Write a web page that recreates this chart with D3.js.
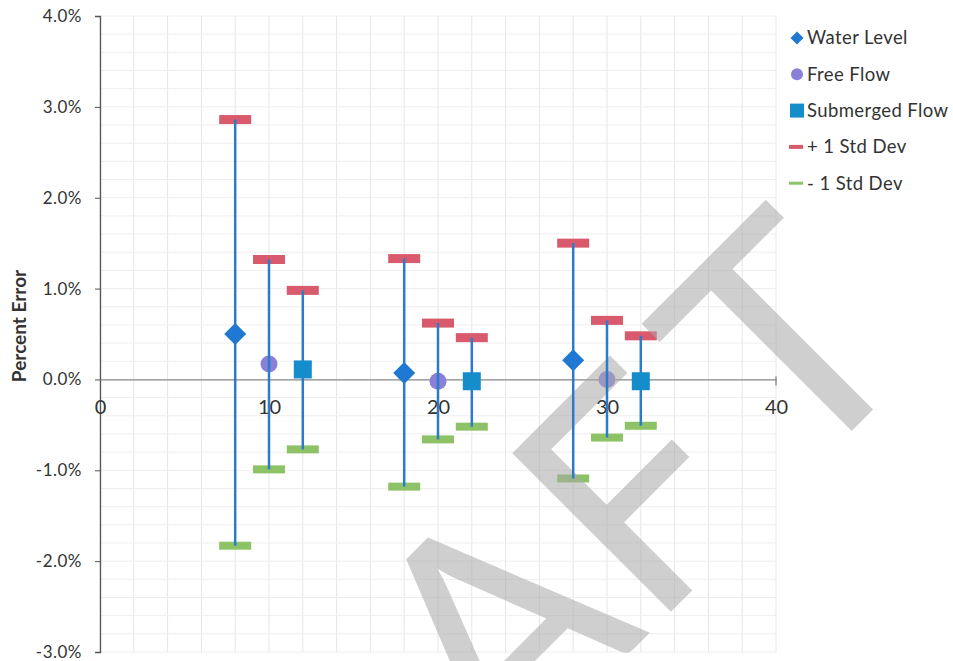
<!DOCTYPE html>
<html lang="en">
  <head>
    <meta charset="UTF-8">
    <title>Percent Error</title>
    <style>
      body { margin: 0; background: #fff; }
      svg { display: block; }
      text { font-family: Lato, "Open Sans", sans-serif; }
    </style>
    <script src="https://d3js.org/d3.v7.min.js"></script>
  </head>
  <body>
    <script>
      // values, in percent
      var waterX = [8, 18, 28];
      var waterLevel = [0.50, 0.07, 0.21];
      var freeX = [10, 20, 30];
      var freeFlow = [0.17, -0.02, 0.00];
      var subX = [12, 22, 32];
      var submergedFlow = [0.11, -0.02, -0.02];
      var stdX = [8, 10, 12, 18, 20, 22, 28, 30, 32];
      var plusStd = [2.86, 1.32, 0.98, 1.33, 0.62, 0.46, 1.50, 0.65, 0.48];
      var minusStd = [-1.83, -0.99, -0.77, -1.18, -0.66, -0.52, -1.09, -0.64, -0.51];
      var xTicks = [0, 10, 20, 30, 40];
      var yTicks = [-3, -2, -1, 0, 1, 2, 3, 4];
      var legendLabels = ["Water Level", "Free Flow", "Submerged Flow", "+ 1 Std Dev", "- 1 Std Dev"];

      var width = 953, height = 661;
      var svg = d3.select("body").append("svg")
        .attr("width", width)
        .attr("height", height);

      var x = d3.scaleLinear().domain([0, 40]).range([100, 776]);
      var y = d3.scaleLinear().domain([-3, 4]).range([652, 16]);

      // faint grid
      var grid = svg.append("g");
      grid.selectAll("line.v").data(d3.range(0, 41, 2)).enter().append("line")
        .attr("x1", function (d) { return x(d); })
        .attr("x2", function (d) { return x(d); })
        .attr("y1", y(4)).attr("y2", y(-3))
        .attr("stroke", "#e6e6e6").attr("stroke-width", 1);
      grid.selectAll("line.h").data(d3.range(-3, 4.01, 0.2)).enter().append("line")
        .attr("x1", x(0)).attr("x2", x(40))
        .attr("y1", function (d) { return y(d); })
        .attr("y2", function (d) { return y(d); })
        .attr("stroke", "#eeeeee").attr("stroke-width", 1);

      // y axis
      var yAxis = d3.axisLeft(y).tickValues(yTicks).tickSize(5).tickPadding(13)
        .tickFormat(function (d) { return d.toFixed(1) + "%"; });
      var gy = svg.append("g").attr("transform", "translate(" + x(0) + ",0)").call(yAxis);
      gy.select(".domain").attr("stroke", "#555").attr("stroke-width", 1.3);
      gy.selectAll(".tick line").attr("stroke", "#555");
      gy.selectAll(".tick text").attr("font-size", 17).attr("fill", "#333")
        .attr("font-family", "Lato").attr("letter-spacing", 0.5);

      // x axis through zero
      var xAxis = d3.axisBottom(x).tickValues(xTicks).tickSize(0).tickPadding(20);
      var gx = svg.append("g").attr("transform", "translate(0," + y(0) + ")").call(xAxis);
      gx.select(".domain").attr("stroke", "#8a8a8a").attr("stroke-width", 1.3);
      gx.selectAll(".tick text").attr("font-size", 20).attr("fill", "#333")
        .attr("font-family", "Lato");
      gx.append("line").attr("x1", x(40)).attr("x2", x(40)).attr("y1", -3).attr("y2", 6)
        .attr("stroke", "#666");

      svg.append("text")
        .attr("transform", "translate(26," + 326 + ") rotate(-90)")
        .attr("text-anchor", "middle")
        .attr("font-size", 19).attr("font-weight", "bold").attr("fill", "#333")
        .text("Percent Error");

      // std dev caps
      svg.append("g").selectAll("rect").data(stdX).enter().append("rect")
        .attr("x", function (d) { return x(d) - 16; })
        .attr("y", function (d, i) { return y(plusStd[i]) - 4.5; })
        .attr("width", 32).attr("height", 9)
        .attr("fill", "#d95a6c");
      svg.append("g").selectAll("rect").data(stdX).enter().append("rect")
        .attr("x", function (d) { return x(d) - 16; })
        .attr("y", function (d, i) { return y(minusStd[i]) - 4; })
        .attr("width", 32).attr("height", 8)
        .attr("fill", "#8dc366");

      svg.append("g").selectAll("circle").data(freeX).enter().append("circle")
        .attr("cx", function (d) { return x(d); })
        .attr("cy", function (d, i) { return y(freeFlow[i]); })
        .attr("r", 8.5)
        .attr("fill", "#8a80d8");

      // DRAFT watermark
      var mark = svg.append("text")
        .attr("transform", "rotate(-45)")
        .attr("x", -633).attr("y", 907)
        .attr("font-family", "Liberation Sans")
        .attr("font-size", 313)
        .attr("fill", "#a9a9a9").attr("opacity", 0.55);
      mark.append("tspan").text("DRAF");
      mark.append("tspan").attr("dx", 30).text("T");

      // error bar stems
      svg.append("g").selectAll("line").data(stdX).enter().append("line")
        .attr("x1", function (d) { return x(d); })
        .attr("x2", function (d) { return x(d); })
        .attr("y1", function (d, i) { return y(plusStd[i]); })
        .attr("y2", function (d, i) { return y(minusStd[i]); })
        .attr("stroke", "#2b7bcb").attr("stroke-width", 2.5);

      // markers
      svg.append("g").selectAll("path").data(waterX).enter().append("path")
        .attr("transform", function (d, i) { return "translate(" + x(d) + "," + y(waterLevel[i]) + ")"; })
        .attr("d", "M0,-11L11,0L0,11L-11,0Z")
        .attr("fill", "#1f78d1");
      svg.append("g").selectAll("rect").data(subX).enter().append("rect")
        .attr("x", function (d) { return x(d) - 9; })
        .attr("y", function (d, i) { return y(submergedFlow[i]) - 9; })
        .attr("width", 18).attr("height", 18)
        .attr("fill", "#168dcb");

      // legend
      var legend = svg.append("g").attr("transform", "translate(797,38)");
      var items = legend.selectAll("g").data(legendLabels).enter().append("g")
        .attr("transform", function (d, i) { return "translate(0," + (i * 36.3) + ")"; });
      items.append("text")
        .attr("x", 10).attr("dy", "0.35em")
        .attr("font-size", 18.5).attr("letter-spacing", 0.4).attr("fill", "#333")
        .text(function (d) { return d; });
      items.each(function (d, i) {
        var g = d3.select(this);
        if (i === 0) g.append("path").attr("d", "M0,-6.5L6.5,0L0,6.5L-6.5,0Z").attr("fill", "#1f78d1");
        if (i === 1) g.append("circle").attr("r", 6).attr("fill", "#8a80d8");
        if (i === 2) g.append("rect").attr("x", -7).attr("y", -7).attr("width", 14).attr("height", 14).attr("fill", "#168dcb");
        if (i === 3) g.append("rect").attr("x", -8).attr("y", -2).attr("width", 14).attr("height", 4).attr("fill", "#d95a6c");
        if (i === 4) g.append("rect").attr("x", -8).attr("y", -1.5).attr("width", 14).attr("height", 3).attr("fill", "#8dc366");
      });
    </script>
  </body>
</html>
